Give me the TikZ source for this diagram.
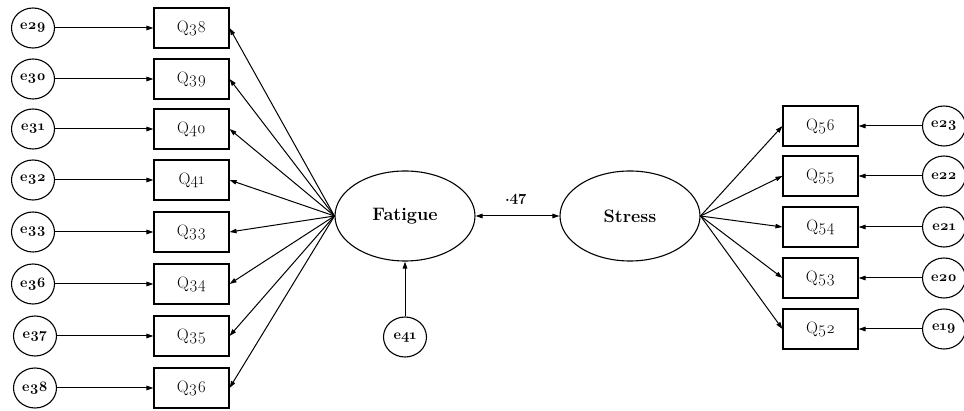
\documentclass[tikz,border=0pt]{standalone}
\usepackage{fontspec}
\setmainfont{Latin Modern Roman}[Numbers=OldStyle]
\usetikzlibrary{shapes.geometric,arrows.meta}
\begin{document}
\begin{tikzpicture}[x=1pt,y=-1pt,
  box/.style={draw,line width=1.1pt,minimum width=75pt,minimum height=40pt,inner sep=0pt,font=\fontsize{16.5}{18}\selectfont},
  err/.style={draw,ellipse,line width=1.1pt,minimum width=43pt,minimum height=40pt,inner sep=0pt,font=\bfseries\fontsize{14.5}{16}\selectfont},
  lat/.style={draw,ellipse,line width=1.1pt,minimum width=140pt,minimum height=90pt,inner sep=0pt,font=\bfseries\fontsize{18}{20}\selectfont},
  arr/.style={line width=1pt,-{Triangle[length=7pt,width=4.5pt]}},
  darr/.style={line width=1pt,{Triangle[length=7pt,width=4.5pt]}-{Triangle[length=7pt,width=4.5pt]}}]
\useasboundingbox (0,0) rectangle (964,411);
% latent
\node[lat] (fat) at (405,216) {Fatigue};
\node[lat] (str) at (630,216) {Stress};
\node[err] (e41) at (405,337) {e41};
\draw[darr] (fat.east) -- (str.west);
\node[font=\bfseries\fontsize{15}{16}\selectfont] (r) at (516,199) {.47};
\draw[arr] (e41.north) -- (fat.south);
% left items
\foreach \q/\e/\y/\ex in {Q38/e29/28/33, Q39/e30/79/33, Q40/e31/129/33, Q41/e32/180/33, Q33/e33/232/33, Q34/e36/284/33, Q35/e37/336/35, Q36/e38/388/35}{
  \node[box] (\q) at (191.5,\y) {\q};
  \node[err] (\e) at (\ex,\y) {\e};
  \draw[arr] (\e.east) -- (\q.west);
  \draw[arr] (fat.west) -- (\q.east);
}
% right items
\foreach \q/\e/\y in {Q56/e23/126, Q55/e22/176, Q54/e21/227, Q53/e20/278, Q52/e19/329}{
  \node[box] (\q) at (820.5,\y) {\q};
  \node[err] (\e) at (944,\y) {\e};
  \draw[arr] (\e.west) -- (\q.east);
  \draw[arr] (str.east) -- (\q.west);
}
\end{tikzpicture}
\end{document}
